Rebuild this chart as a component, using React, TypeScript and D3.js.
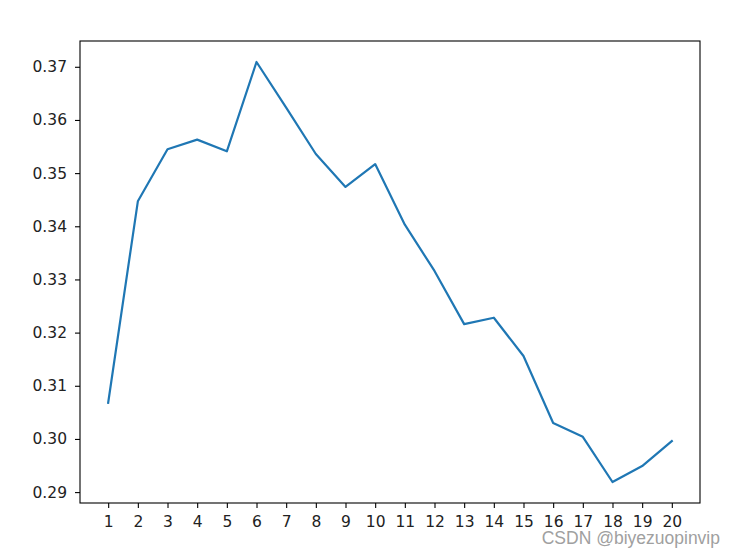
import * as d3 from 'd3';
import {useEffect, useRef} from 'react';

const epochs = [1, 2, 3, 4, 5, 6, 7, 8, 9, 10, 11, 12, 13, 14, 15, 16, 17, 18, 19, 20];
const values = [
	0.3068, 0.3447, 0.3545, 0.3563, 0.3541, 0.3709, 0.3623, 0.3536, 0.3474, 0.3517, 0.3403, 0.3316, 0.3216, 0.3228,
	0.3156, 0.303, 0.3004, 0.2919, 0.2949, 0.2996,
];
const yTicks = [0.29, 0.3, 0.31, 0.32, 0.33, 0.34, 0.35, 0.36, 0.37];

const width = 735;
const height = 556;
const margin = {top: 41, right: 35, bottom: 53, left: 80};

export default function App() {
	const svgRef = useRef<SVGSVGElement>(null);

	useEffect(() => {
		const svg = d3.select(svgRef.current).attr('width', width).attr('height', height);
		svg.selectAll('*').remove();

		const innerW = width - margin.left - margin.right;
		const innerH = height - margin.top - margin.bottom;

		const xPad = (20 - 1) * 0.05;
		const x = d3
			.scaleLinear()
			.domain([1 - xPad, 20 + xPad])
			.range([0, innerW]);
		const yMin = d3.min(values)!;
		const yMax = d3.max(values)!;
		const yPad = (yMax - yMin) * 0.05;
		const y = d3
			.scaleLinear()
			.domain([yMin - yPad, yMax + yPad])
			.range([innerH, 0]);

		svg.append('rect').attr('width', width).attr('height', height).attr('fill', '#fff');

		const g = svg.append('g').attr('transform', `translate(${margin.left},${margin.top})`);

		const line = d3
			.line<number>()
			.x((_, i) => x(epochs[i]))
			.y((d) => y(d));

		g.append('path')
			.datum(values)
			.attr('d', line)
			.attr('fill', 'none')
			.attr('stroke', '#1f77b4')
			.attr('stroke-width', 2.2)
			.attr('stroke-linejoin', 'round')
			.attr('stroke-linecap', 'square');

		const xAxis = g
			.append('g')
			.attr('transform', `translate(0,${innerH})`)
			.call(d3.axisBottom(x).tickValues(epochs).tickFormat(d3.format('d')).tickSize(5).tickPadding(8));
		const yAxis = g
			.append('g')
			.call(d3.axisLeft(y).tickValues(yTicks).tickFormat(d3.format('.2f')).tickSize(5).tickPadding(8));

		[xAxis, yAxis].forEach((a) => {
			a.select('.domain').remove();
			a.selectAll('line').attr('stroke', '#000').attr('stroke-width', 1.1);
			a.selectAll('text')
				.attr('fill', '#222')
				.style('font-family', 'DejaVu Sans')
				.style('font-size', '15.5px');
		});

		g.append('rect')
			.attr('width', innerW)
			.attr('height', innerH)
			.attr('fill', 'none')
			.attr('stroke', '#000')
			.attr('stroke-width', 1.1);

		// watermark
		svg.append('text')
			.attr('x', 720)
			.attr('y', 544)
			.attr('text-anchor', 'end')
			.attr('fill', '#a0a0a0')
			.style('font-family', 'Liberation Sans, Arial, sans-serif')
			.style('font-size', '17.5px')
			.text('CSDN @biyezuopinvip');
	}, []);

	return (
		<div style={{position: 'absolute', left: 0, top: 0}}>
			<svg ref={svgRef} style={{display: 'block'}} />
		</div>
	);
}
